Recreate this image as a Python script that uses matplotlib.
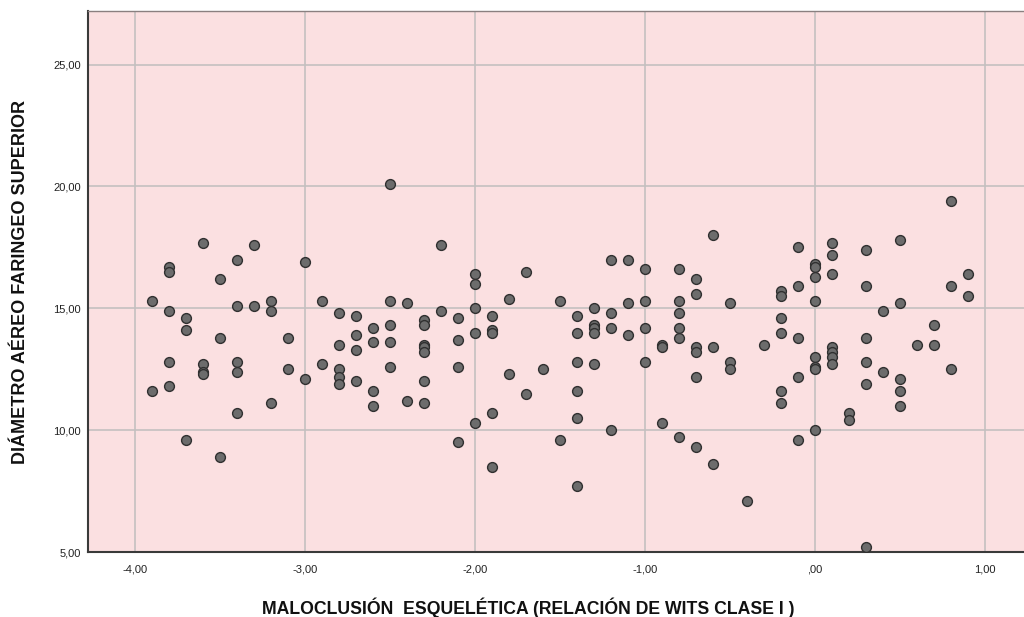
import matplotlib
matplotlib.use("Agg")
import matplotlib.pyplot as plt
from matplotlib.ticker import FixedLocator

plt.rcParams['font.family'] = ['Liberation Sans', 'DejaVu Sans']

# Wits value -> list of upper pharyngeal airway diameters
wits_groups = [
    (-3.9, [15.3, 11.6]),
    (-3.8, [16.7, 16.5, 14.9, 12.8, 11.8]),
    (-3.7, [14.6, 14.1, 9.6]),
    (-3.6, [17.7, 12.7, 12.4, 12.3]),
    (-3.5, [16.2, 13.8, 8.9]),
    (-3.4, [17.0, 15.1, 12.8, 12.4, 10.7]),
    (-3.3, [17.6, 15.1]),
    (-3.2, [15.3, 14.9, 11.1]),
    (-3.1, [13.8, 12.5]),
    (-3.0, [16.9, 12.1]),
    (-2.9, [15.3, 12.7]),
    (-2.8, [14.8, 13.5, 12.5, 12.2, 11.9]),
    (-2.7, [14.7, 13.9, 13.3, 12.0]),
    (-2.6, [14.2, 13.6, 11.6, 11.0]),
    (-2.5, [20.1, 15.3, 14.3, 13.6, 12.6]),
    (-2.4, [15.2, 11.2]),
    (-2.3, [14.5, 14.3, 13.5, 13.4, 13.2, 12.0, 11.1]),
    (-2.2, [17.6, 14.9]),
    (-2.1, [14.6, 13.7, 12.6, 9.5]),
    (-2.0, [16.4, 16.0, 15.0, 14.0, 10.3]),
    (-1.9, [14.7, 14.1, 14.0, 10.7, 8.5]),
    (-1.8, [15.4, 12.3]),
    (-1.7, [16.5, 11.5]),
    (-1.6, [12.5]),
    (-1.5, [15.3, 9.6]),
    (-1.4, [14.7, 14.0, 12.8, 11.6, 10.5, 7.7]),
    (-1.3, [15.0, 14.3, 14.2, 14.0, 12.7]),
    (-1.2, [17.0, 14.8, 14.2, 10.0]),
    (-1.1, [17.0, 15.2, 13.9]),
    (-1.0, [16.6, 15.3, 14.2, 12.8]),
    (-0.9, [13.5, 13.4, 10.3]),
    (-0.8, [16.6, 15.3, 14.8, 14.2, 13.8, 9.7]),
    (-0.7, [16.2, 15.6, 13.4, 13.2, 12.2, 9.3]),
    (-0.6, [18.0, 13.4, 8.6]),
    (-0.5, [15.2, 12.8, 12.5]),
    (-0.4, [7.1]),
    (-0.3, [13.5]),
    (-0.2, [15.7, 15.5, 14.6, 14.0, 11.6, 11.1]),
    (-0.1, [17.5, 15.9, 13.8, 12.2, 9.6]),
    (0.0, [16.8, 16.7, 16.3, 15.3, 13.0, 12.6, 12.5, 10.0]),
    (0.1, [17.7, 17.2, 16.4, 13.4, 13.2, 13.0, 12.7]),
    (0.2, [10.7, 10.4]),
    (0.3, [17.4, 15.9, 13.8, 12.8, 11.9, 5.2]),
    (0.4, [14.9, 12.4]),
    (0.5, [17.8, 15.2, 12.1, 11.6, 11.0]),
    (0.6, [13.5]),
    (0.7, [14.3, 13.5]),
    (0.8, [19.4, 15.9, 12.5]),
    (0.9, [16.4, 15.5]),
]

wits = [x for x, ys in wits_groups for _ in ys]
diametro = [y for _, ys in wits_groups for y in ys]

x_ticks = [-4, -3, -2, -1, 0, 1]
x_tick_labels = ["-4,00", "-3,00", "-2,00", "-1,00", ",00", "1,00"]
y_ticks = [5, 10, 15, 20, 25]
y_tick_labels = ["5,00", "10,00", "15,00", "20,00", "25,00"]

fig = plt.figure(figsize=(10.24, 6.17), dpi=100)
ax = fig.add_axes([88 / 1024, 65 / 617, 936 / 1024, 541 / 617])
ax.set_facecolor("#fbe0e1")

ax.scatter(wits, diametro, s=50, facecolor="#6c6c6c", edgecolor="#303030",
           linewidths=1.0, zorder=3)

ax.set_xlim(-4.277, 1.23)
ax.set_ylim(5.0, 27.2)
ax.xaxis.set_major_locator(FixedLocator(x_ticks))
ax.yaxis.set_major_locator(FixedLocator(y_ticks))
ax.set_xticklabels(x_tick_labels)
ax.set_yticklabels(y_tick_labels)
ax.tick_params(axis="x", length=0, labelsize=8, colors="#222222", pad=9)
ax.tick_params(axis="y", length=0, labelsize=8, colors="#222222", pad=5)

ax.grid(True, color="#c4c0c0", linewidth=1.2, zorder=1)
ax.set_axisbelow(True)

for side in ("left", "bottom"):
    ax.spines[side].set_color("#3a3a3a")
    ax.spines[side].set_linewidth(1.5)
ax.spines["top"].set_color("#8a8080")
ax.spines["top"].set_linewidth(1.0)
ax.spines["right"].set_visible(False)

ax.set_xlabel("MALOCLUSIÓN  ESQUELÉTICA (RELACIÓN DE WITS CLASE I )",
              fontsize=12.7, fontweight="bold", color="#111111")
ax.xaxis.set_label_coords(0.47, -0.084)
ax.set_ylabel("DIÁMETRO AÉREO FARINGEO SUPERIOR",
              fontsize=13, fontweight="bold", color="#111111")
ax.yaxis.set_label_coords(-0.063, 0.5)

fig.savefig("out.png", dpi=100)
